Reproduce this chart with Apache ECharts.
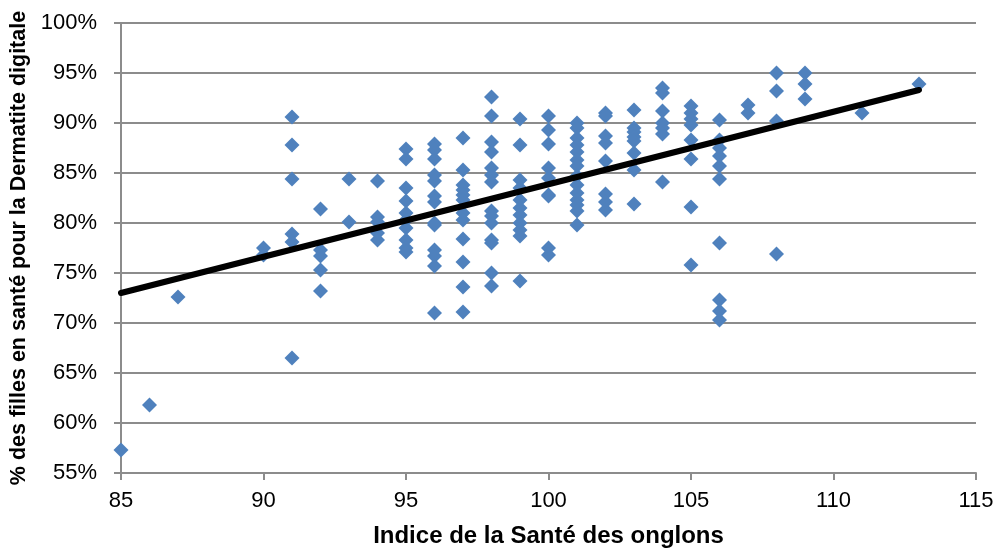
<!DOCTYPE html>
<html>
<head>
<meta charset="utf-8">
<script src="https://cdn.jsdelivr.net/npm/echarts@6/dist/echarts.min.js"></script>
<style>
  html, body { margin: 0; padding: 0; background: #fff; }
  #chart { width: 1001px; height: 549px; }
</style>
</head>
<body>
<div id="chart"></div>
<script>
// indice santé des onglons -> % filles saines (DD), lu colonne par colonne
var col85 = [57.3];
var col86 = [61.8];
var col87 = [72.6];
var col90 = [77.5, 76.8];
var col91 = [90.6, 87.8, 84.4, 78.9, 78.1, 66.5];
var col92 = [81.4, 77.3, 76.7, 75.3, 73.2];
var col93 = [84.4, 80.1];
var col94 = [84.2, 80.6, 80.1, 79.0, 78.3];
var col95 = [87.4, 86.4, 83.5, 82.2, 81.0, 80.3, 79.5, 78.3, 77.5, 77.1];
var col96 = [87.9, 87.3, 86.4, 84.8, 84.2, 82.7, 82.1, 80.0, 79.8, 77.3, 76.7, 75.7, 71.0];
var col97 = [88.5, 85.3, 83.8, 83.3, 82.8, 82.3, 81.0, 80.3, 78.4, 76.1, 73.6, 71.1];
var col98 = [92.6, 90.7, 88.1, 87.1, 85.5, 84.8, 84.1, 81.2, 80.7, 80.0, 78.3, 78.0, 75.0, 73.7];
var col99 = [90.4, 87.8, 84.3, 83.5, 82.3, 81.5, 80.8, 80.0, 79.3, 78.7, 74.2];
var col100 = [90.7, 89.3, 87.9, 85.5, 84.5, 82.8, 82.7, 77.5, 76.8];
var col101 = [90.0, 89.5, 88.5, 87.8, 87.1, 86.3, 85.7, 84.7, 83.8, 83.0, 82.3, 81.8, 81.2, 79.8];
var col102 = [91.0, 90.7, 88.7, 88.0, 86.2, 82.9, 82.1, 81.3];
var col103 = [91.3, 89.5, 89.1, 88.6, 88.2, 87.0, 85.3, 81.9];
var col104 = [93.5, 93.0, 91.2, 90.0, 89.5, 88.9, 84.1];
var col105 = [91.7, 91.0, 90.4, 89.8, 88.3, 86.4, 81.6, 75.8];
var col106 = [90.3, 88.3, 87.5, 86.7, 85.7, 84.4, 78.0, 72.3, 71.2, 70.3];
var col107 = [91.8, 91.0];
var col108 = [95.0, 93.2, 90.2, 76.9];
var col109 = [95.0, 93.9, 92.4];
var col111 = [91.0];
var col113 = [93.9];

var xValues = [85, 86, 87, 90, 91, 92, 93, 94, 95, 96, 97, 98, 99, 100, 101, 102, 103, 104, 105, 106, 107, 108, 109, 111, 113];
var yColumns = [col85, col86, col87, col90, col91, col92, col93, col94, col95, col96, col97, col98, col99,
                col100, col101, col102, col103, col104, col105, col106, col107, col108, col109, col111, col113];

// courbe de tendance (extrémités)
var trendX = [85, 113];
var trendY = [73.0, 93.3];

var points = [];
for (var i = 0; i < xValues.length; i++) {
    for (var j = 0; j < yColumns[i].length; j++) {
        points.push([xValues[i], yColumns[i][j]]);
    }
}
var trend = [];
for (var k = 0; k < trendX.length; k++) {
    trend.push([trendX[k], trendY[k]]);
}

var myChart = echarts.init(document.getElementById('chart'));
var gridColor = '#8c8c8c';
var font = 'Liberation Sans, Arial, sans-serif';

var option = {
    animation: false,
    grid: { left: 121, right: 25, top: 23, bottom: 76, outerBoundsMode: 'none', containLabel: false },
    xAxis: {
        type: 'value',
        min: 85, max: 115, interval: 5,
        name: 'Indice de la Santé des onglons',
        nameLocation: 'middle',
        nameGap: 51,
        nameTextStyle: { fontFamily: font, fontSize: 24, fontWeight: 'bold', color: '#000' },
        axisLine: { lineStyle: { color: gridColor, width: 2 } },
        axisTick: { show: true, length: 7, lineStyle: { color: gridColor, width: 2 } },
        axisLabel: { fontFamily: font, fontSize: 22, color: '#000', margin: 17 },
        splitLine: { show: false }
    },
    yAxis: {
        type: 'value',
        min: 55, max: 100, interval: 5,
        name: '% des filles en santé pour la Dermatite digitale',
        nameLocation: 'middle',
        nameGap: 89,
        nameTextStyle: { fontFamily: font, fontSize: 21.5, fontWeight: 'bold', color: '#000' },
        axisLine: { show: true, lineStyle: { color: gridColor, width: 2 } },
        axisTick: { show: true, length: 7, lineStyle: { color: gridColor, width: 2 } },
        axisLabel: { fontFamily: font, fontSize: 22, color: '#000', margin: 24, formatter: '{value}%' },
        splitLine: { show: true, lineStyle: { color: gridColor, width: 2 } }
    },
    series: [
        {
            type: 'scatter',
            symbol: 'diamond',
            symbolSize: 15,
            itemStyle: { color: '#4f81bd', opacity: 1 },
            data: points,
            z: 2
        },
        {
            type: 'line',
            data: trend,
            symbol: 'none',
            lineStyle: { color: '#000', width: 6, cap: 'round' },
            z: 3
        }
    ]
};

option && myChart.setOption(option);
</script>
</body>
</html>
